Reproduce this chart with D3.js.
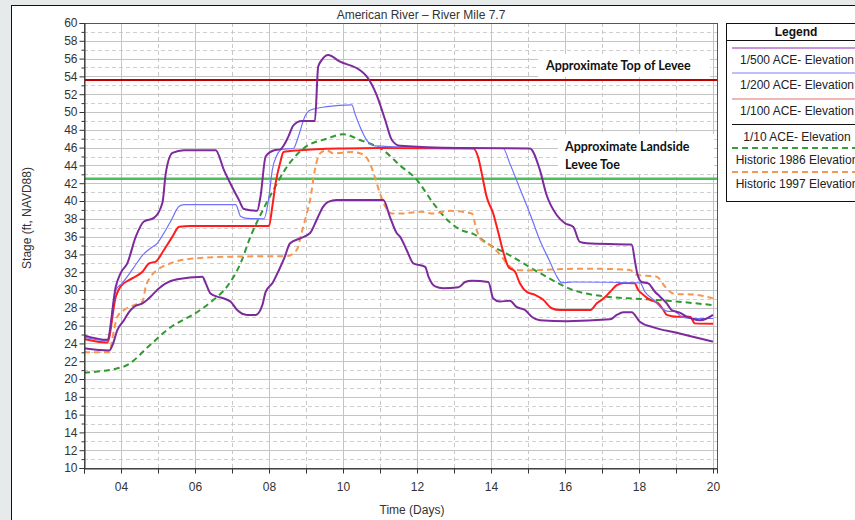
<!DOCTYPE html>
<html>
<head>
<meta charset="utf-8">
<script src="https://cdn.jsdelivr.net/npm/d3@7"></script>
<style>
  html, body { margin: 0; padding: 0; background: #e6eaea; }
  svg { display: block; }
</style>
</head>
<body>
<svg id="chart" width="855" height="520"></svg>
<script>
// values: [day, stage ft]
const aep500 = [[3,24.9],[3.63,24.4],[3.86,30.4],[3.99,31.9],[4.17,33.0],[4.4,36.0],[4.62,37.7],[4.89,38.1],[5.12,39.8],[5.21,43.1],[5.39,45.4],[5.7,45.7],[6.56,45.7],[6.78,43.5],[7.0,41.6],[7.19,40.1],[7.32,39.1],[7.68,38.9],[7.77,40.5],[7.91,45.0],[8.14,45.7],[8.3,45.8],[8.52,47.2],[8.66,48.5],[8.88,49.0],[9.24,49.0],[9.33,55.1],[9.42,55.8],[9.6,56.4],[9.92,55.65],[10.46,54.7],[10.64,54.0],[10.91,51.9],[11.14,49.1],[11.32,46.85],[11.54,46.2],[13.16,45.95],[15.05,45.9],[15.32,43.5],[15.5,40.7],[15.78,38.4],[16.0,37.5],[16.22,37.1],[16.4,35.4],[16.59,35.25],[17.8,35.1],[17.9,33.0],[17.95,31.9],[18.07,30.9],[18.25,30.75],[18.43,29.8],[18.57,29.25],[18.75,28.5],[18.88,27.75],[19.1,27.45],[19.29,27.0],[19.65,26.6],[19.83,26.8],[20.0,27.2]];

const aep200 = [[3,24.7],[3.63,24.3],[3.86,30.0],[4.03,30.75],[4.3,32.25],[4.58,33.9],[4.8,34.7],[4.98,35.25],[5.16,36.4],[5.34,37.7],[5.57,39.4],[5.7,39.6],[7.1,39.6],[7.23,38.3],[7.41,38.05],[7.86,38.0],[8.0,40.5],[8.09,43.5],[8.22,45.2],[8.35,45.8],[8.66,45.9],[8.79,47.2],[8.97,49.5],[9.11,50.2],[9.56,50.6],[10.24,50.8],[10.32,49.85],[10.46,48.35],[10.64,46.85],[10.86,46.2],[13.16,45.95],[14.33,45.9],[14.51,44.2],[14.78,41.4],[15.05,38.6],[15.32,35.6],[15.59,33.2],[15.78,31.5],[15.91,30.8],[16.22,30.9],[18.03,30.8],[18.16,29.8],[18.39,28.9],[18.61,27.95],[18.79,27.6],[18.97,27.6],[19.15,27.0],[19.38,26.8],[20.0,26.8]];

const aep100 = [[3,24.5],[3.63,24.1],[3.86,29.25],[3.99,30.4],[4.3,31.3],[4.58,32.05],[4.76,33.0],[4.94,33.2],[5.16,34.5],[5.39,36.0],[5.57,37.1],[5.88,37.2],[8.0,37.2],[8.09,39.4],[8.18,42.0],[8.32,44.6],[8.39,45.5],[8.84,45.7],[10.01,45.9],[11.0,45.95],[13.52,45.9],[13.66,44.8],[13.75,43.1],[13.88,40.5],[14.06,38.6],[14.2,36.4],[14.33,34.3],[14.47,32.6],[14.65,32.05],[14.78,30.75],[14.96,29.8],[15.19,29.45],[15.41,28.9],[15.64,27.95],[15.86,27.75],[16.68,27.75],[16.86,28.5],[17.04,29.05],[17.22,29.8],[17.4,30.55],[17.6,30.8],[17.88,30.75],[17.98,30.0],[18.12,29.45],[18.3,28.9],[18.52,28.5],[18.66,27.75],[18.75,27.2],[19.02,27.0],[19.38,27.0],[19.51,26.25],[20.0,26.2]];

const aep10 = [[3,23.45],[3.68,23.2],[3.77,23.8],[3.9,25.5],[4.08,26.6],[4.22,27.55],[4.35,28.1],[4.58,28.5],[4.71,28.9],[4.85,29.45],[5.03,30.2],[5.21,30.75],[5.52,31.2],[6.2,31.5],[6.29,30.75],[6.42,29.6],[6.6,29.25],[6.78,29.05],[6.96,28.7],[7.14,27.75],[7.41,27.2],[7.64,27.2],[7.82,28.3],[7.91,29.8],[8.09,30.75],[8.27,32.25],[8.41,33.55],[8.57,35.25],[8.84,35.8],[9.11,36.4],[9.29,37.9],[9.47,39.4],[9.6,39.9],[9.83,40.1],[11.09,40.1],[11.27,38.2],[11.45,36.4],[11.54,36.0],[11.72,34.5],[11.9,33.0],[12.22,32.6],[12.31,31.5],[12.49,30.4],[12.71,30.2],[13.12,30.3],[13.3,30.9],[13.48,31.05],[13.93,30.9],[14.06,29.05],[14.24,28.7],[14.51,28.8],[14.69,28.1],[14.92,27.75],[15.1,27.0],[15.32,26.6],[16.05,26.5],[17.22,26.7],[17.4,27.2],[17.58,27.5],[17.8,27.5],[18.03,26.4],[18.39,25.8],[19.02,25.2],[19.65,24.55],[20.0,24.2]];

const hist1986 = [[3,20.7],[4.08,21.4],[4.78,23.8],[5.24,25.5],[6.14,27.75],[6.5,28.9],[6.87,30.4],[7.23,33.0],[7.5,36.0],[7.86,39.2],[8.22,42.0],[8.43,43.5],[8.93,45.9],[9.56,47.0],[10.01,47.5],[10.46,46.85],[11.09,45.7],[11.54,44.0],[11.99,42.4],[12.44,39.75],[12.89,37.6],[13.16,36.8],[13.52,36.3],[13.97,35.05],[14.42,34.1],[15.32,31.9],[16.22,30.0],[17.12,29.25],[18.03,29.0],[18.75,28.8],[20.0,28.3]];

const hist1997 = [[3,23.0],[3.68,23.0],[3.81,25.5],[3.9,27.0],[4.08,27.75],[4.35,28.3],[4.58,28.7],[4.67,30.4],[4.8,31.5],[4.98,32.25],[5.34,33.0],[5.7,33.4],[6.6,33.7],[7.05,33.75],[8.32,33.8],[8.48,33.8],[8.75,34.5],[8.88,36.4],[9.02,38.6],[9.11,40.1],[9.24,43.5],[9.38,45.35],[9.56,45.7],[9.74,45.35],[10.24,45.5],[10.55,45.2],[10.73,44.2],[10.86,42.7],[11.0,40.85],[11.14,39.4],[11.32,38.6],[11.63,38.6],[12.08,38.8],[12.44,38.6],[12.89,38.9],[13.48,38.6],[13.61,36.75],[13.7,35.8],[13.97,35.05],[14.29,33.75],[14.42,33.0],[14.69,32.25],[14.96,32.2],[15.59,32.3],[16.68,32.4],[17.76,32.25],[17.94,31.7],[18.48,31.5],[18.7,30.4],[18.93,29.6],[19.56,29.45],[20.0,29.05]];

const leveeTop = 53.6;
const leveeToe = 42.5;

const yTicks = d3.range(10, 61, 2);
const xTicks = d3.range(4, 21, 2);

const legendLabels = [
  "1/500 ACE- Elevation",
  "1/200 ACE- Elevation",
  "1/100 ACE- Elevation",
  "1/10 ACE- Elevation",
  "Historic 1986 Elevation",
  "Historic 1997 Elevation"
];

const svg = d3.select("#chart");
const font = "'Liberation Sans', Arial, sans-serif";
svg.style("font-family", font);

const plot = { left: 84, right: 717, top: 23, bottom: 468 };

const x = d3.scaleLinear().domain([3, 20.108]).range([plot.left, plot.right]);
const y = d3.scaleLinear().domain([10, 60]).range([plot.bottom, plot.top]);

// outer frame
svg.append("rect")
  .attr("x", 11.5).attr("y", 5.5)
  .attr("width", 900).attr("height", 600)
  .attr("fill", "#ffffff")
  .attr("stroke", "#111")
  .attr("stroke-width", 1);

// grid
const grid = svg.append("g");
d3.range(11, 60, 1).forEach(v => {
  const even = v % 2 === 0;
  grid.append("line")
    .attr("x1", plot.left).attr("x2", plot.right)
    .attr("y1", Math.round(y(v)) + 0.5).attr("y2", Math.round(y(v)) + 0.5)
    .attr("stroke", even ? "#c4c4c4" : "#cfcfcf")
    .attr("stroke-dasharray", even ? null : "4,3");
});
d3.range(3, 21, 1).forEach(d => {
  const even = d % 2 === 0;
  grid.append("line")
    .attr("x1", Math.round(x(d)) + 0.5).attr("x2", Math.round(x(d)) + 0.5)
    .attr("y1", plot.top).attr("y2", plot.bottom)
    .attr("stroke", even ? "#c4c4c4" : "#c8c8c8")
    .attr("stroke-dasharray", even ? null : "4,3");
});

// white boxes behind the annotations
svg.append("rect").attr("x", 538).attr("y", 54).attr("width", 172).attr("height", 23).attr("fill", "#fff");
svg.append("rect").attr("x", 558).attr("y", 134).attr("width", 156).attr("height", 40).attr("fill", "#fff");

// reference lines
svg.append("line")
  .attr("x1", plot.left).attr("x2", plot.right)
  .attr("y1", y(leveeTop)).attr("y2", y(leveeTop))
  .attr("stroke", "#c00000").attr("stroke-width", 2);
svg.append("line")
  .attr("x1", plot.left).attr("x2", plot.right)
  .attr("y1", y(leveeToe)).attr("y2", y(leveeToe))
  .attr("stroke", "#4cbf5c").attr("stroke-width", 2.5);

svg.append("text")
  .attr("x", 546).attr("y", 69.5)
  .attr("font-family", "Lato, 'Open Sans', sans-serif")
  .attr("font-weight", "bold").attr("font-size", "12.5px")
  .attr("fill", "#111")
  .text("Approximate Top of Levee");
svg.append("text")
  .attr("x", 565).attr("y", 150.5)
  .attr("font-family", "Lato, 'Open Sans', sans-serif")
  .attr("font-weight", "bold").attr("font-size", "12.5px")
  .attr("fill", "#111")
  .text("Approximate Landside");
svg.append("text")
  .attr("x", 565).attr("y", 168.5)
  .attr("font-family", "Lato, 'Open Sans', sans-serif")
  .attr("font-weight", "bold").attr("font-size", "12.5px")
  .attr("fill", "#111")
  .text("Levee Toe");

// series
const line = d3.line()
  .x(d => x(d[0]))
  .y(d => y(d[1]))
  .curve(d3.curveMonotoneX);

const series = [
  { data: hist1986, color: "#2f9a2f", width: 2, dash: "6,4" },
  { data: hist1997, color: "#f79650", width: 2, dash: "6,4" },
  { data: aep10, color: "#7d2a9c", width: 2 },
  { data: aep100, color: "#ff1c1c", width: 2 },
  { data: aep200, color: "#6f6fff", width: 1.2 },
  { data: aep500, color: "#7d2a9c", width: 2 }
];

const lines = svg.append("g");
series.forEach(s => {
  lines.append("path")
    .datum(s.data)
    .attr("fill", "none")
    .attr("stroke", s.color)
    .attr("stroke-width", s.width)
    .attr("stroke-dasharray", s.dash || null)
    .attr("stroke-linejoin", "round")
    .attr("d", line);
});

// plot border
svg.append("rect")
  .attr("x", plot.left + 0.5).attr("y", plot.top + 0.5)
  .attr("width", plot.right - plot.left).attr("height", plot.bottom - plot.top)
  .attr("fill", "none").attr("stroke", "#555").attr("stroke-width", 1);

// axes
const yAxis = svg.append("g")
  .attr("transform", `translate(${plot.left + 0.5},0)`)
  .call(d3.axisLeft(y).tickValues(yTicks).tickSize(5).tickPadding(2));
yAxis.select(".domain").attr("stroke", "#333");
yAxis.selectAll("text").attr("font-size", "12px").attr("fill", "#333").attr("font-family", font);
yAxis.selectAll("line").attr("stroke", "#333");
svg.append("g")
  .attr("transform", `translate(${plot.left + 0.5},0)`)
  .call(d3.axisLeft(y).tickValues(d3.range(11, 60, 2)).tickSize(3).tickFormat(""))
  .call(g => g.select(".domain").remove())
  .selectAll("line").attr("stroke", "#333");

const xAxis = svg.append("g")
  .attr("transform", `translate(0,${plot.bottom + 0.5})`)
  .call(d3.axisBottom(x).tickValues(xTicks).tickSize(5).tickPadding(9).tickFormat(d3.format("02")));
xAxis.select(".domain").attr("stroke", "#333");
xAxis.selectAll("text").attr("font-size", "12px").attr("fill", "#333").attr("font-family", font);
xAxis.selectAll("line").attr("stroke", "#333");
svg.append("g")
  .attr("transform", `translate(0,${plot.bottom + 0.5})`)
  .call(d3.axisBottom(x).tickValues(d3.range(3, 21, 2)).tickSize(5).tickFormat(""))
  .call(g => g.select(".domain").remove())
  .selectAll("line").attr("stroke", "#333");

// titles
svg.append("text")
  .attr("x", 421).attr("y", 19)
  .attr("text-anchor", "middle")
  .attr("font-size", "12px").attr("fill", "#333")
  .text("American River \u2013 River Mile 7.7");

svg.append("text")
  .attr("x", 412).attr("y", 514)
  .attr("text-anchor", "middle")
  .attr("font-size", "12px").attr("fill", "#333")
  .text("Time (Days)");

svg.append("text")
  .attr("transform", "translate(31,218) rotate(-90)")
  .attr("text-anchor", "middle")
  .attr("font-size", "12px").attr("fill", "#333")
  .text("Stage (ft, NAVD88)");

// legend
const lg = svg.append("g");
lg.append("rect")
  .attr("x", 726.5).attr("y", 23.5)
  .attr("width", 145).attr("height", 178)
  .attr("fill", "#fff").attr("stroke", "#111");
lg.append("text")
  .attr("x", 796).attr("y", 35.5)
  .attr("text-anchor", "middle")
  .attr("font-size", "12px").attr("font-weight", "bold").attr("fill", "#111")
  .text("Legend");
lg.append("line")
  .attr("x1", 726).attr("x2", 872)
  .attr("y1", 40.5).attr("y2", 40.5)
  .attr("stroke", "#111");

const legendStyle = [
  { color: "#b46fcc", dash: null, width: 1.5 },
  { color: "#7f7fff", dash: null, width: 1 },
  { color: "#e26a6a", dash: null, width: 1 },
  { color: "#111111", dash: null, width: 1 },
  { color: "#3a9e3a", dash: "6,4", width: 2 },
  { color: "#f79650", dash: "6,4", width: 2 }
];
const legendLineY = [48, 73, 99, 124.5, 148, 172];
legendLabels.forEach((label, i) => {
  const st = legendStyle[i];
  lg.append("line")
    .attr("x1", 732).attr("x2", 872)
    .attr("y1", legendLineY[i]).attr("y2", legendLineY[i])
    .attr("stroke", st.color)
    .attr("stroke-width", st.width)
    .attr("stroke-dasharray", st.dash);
  lg.append("text")
    .attr("x", 797).attr("y", legendLineY[i] + 16)
    .attr("text-anchor", "middle")
    .attr("font-size", "12px").attr("fill", "#222")
    .text(label);
});
</script>
</body>
</html>
